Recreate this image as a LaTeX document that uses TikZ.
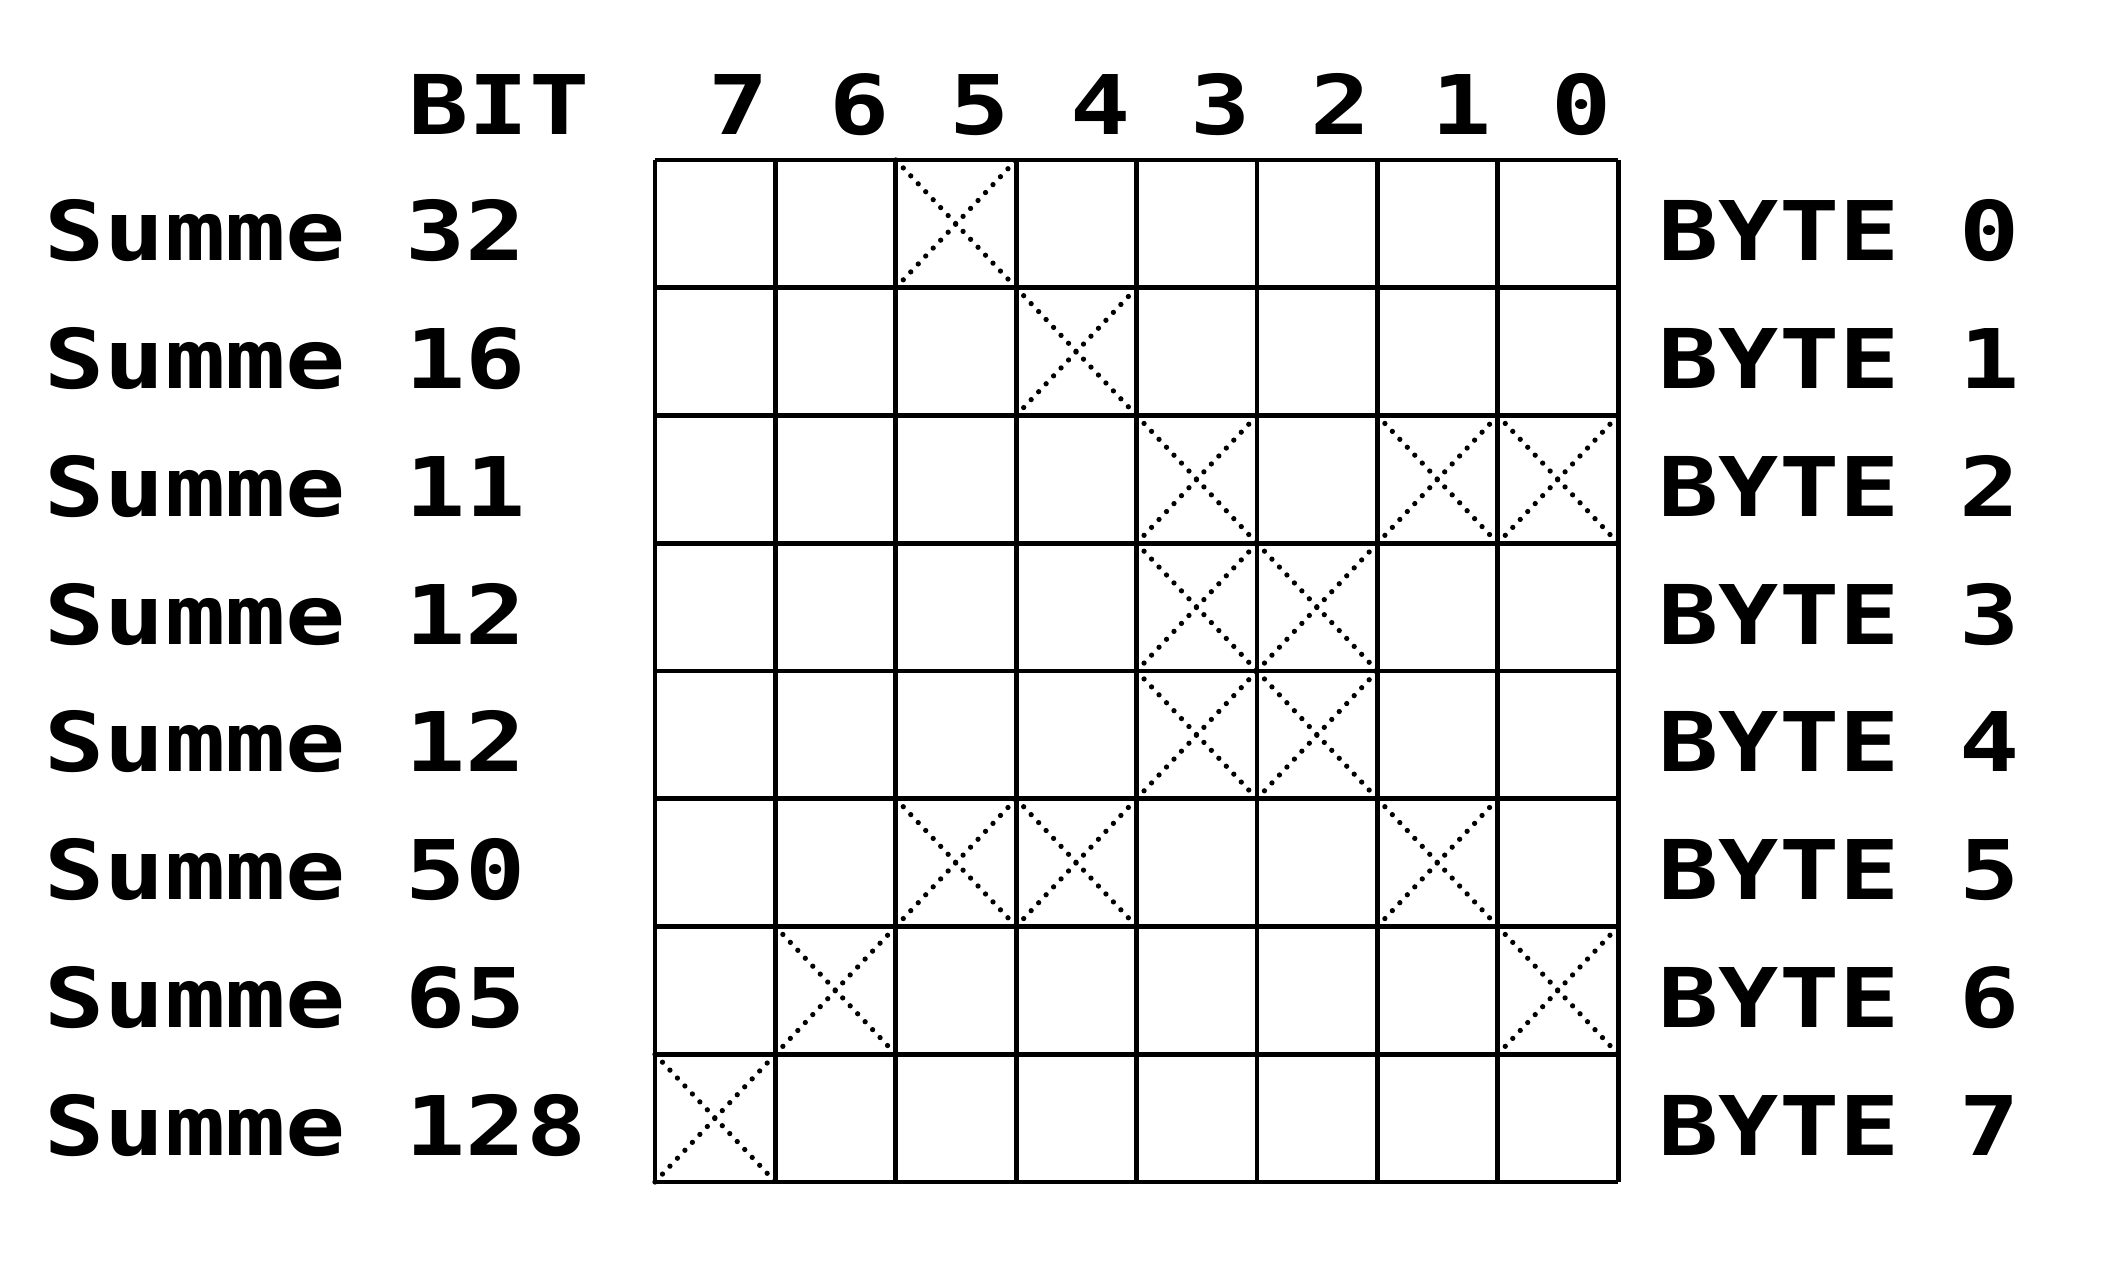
\documentclass[tikz,border=0pt]{standalone}
\usepackage{fontspec}
\newfontfamily\dotfont[FakeStretch=1.215]{DejaVu Sans Mono}
\newcommand{\dotsize}{\fontsize{23.4pt}{28pt}\selectfont}

\tikzset{
  printtext/.style={font=\dotfont\bfseries\dotsize, inner sep=0pt, anchor=base west},
  gridline/.style={line width=1.4pt},
  crossline/.style={line width=1.5pt, line cap=round, dash pattern=on 0pt off 3.1pt}
}

\begin{document}
\begin{tikzpicture}[x=0.01cm, y=-0.01cm]
  \useasboundingbox (0,0) rectangle (2102,1263);

  % Header line
  \node[printtext] (bitlabel) at (408,134) {BIT};
  \foreach \d [count=\k from 0] in {7,...,0} {
    \node[printtext, anchor=base] (bit\d) at (739+120.4*\k,134) {\d};
  }

  % Grid
  \foreach \i in {0,...,8} {
    \draw[gridline] (655+120.4*\i,160) -- (655+120.4*\i,1182);
    \draw[gridline] (655,160+127.75*\i) -- (1618,160+127.75*\i);
  }

  % Set bits
  \foreach \c/\r in {2/0, 3/1, 4/2, 6/2, 7/2, 4/3, 5/3, 4/4, 5/4,
                     2/5, 3/5, 6/5, 1/6, 7/6, 0/7} {
    \draw[crossline] (655+120.4*\c,160+127.75*\r) -- ++(120.4,127.75);
    \draw[crossline] (655+120.4*\c,287.75+127.75*\r) -- ++(120.4,-127.75);
  }

  % Row labels
  \foreach \v [count=\r from 0] in {32,16,11,12,12,50,65,128} {
    \node[printtext] (sum\r) at (44,260.9+127.75*\r) {Summe};
    \node[printtext] (val\r) at (405,260.9+127.75*\r) {\v};
    \node[printtext] (byte\r) at (1658,260.9+127.75*\r) {BYTE};
    \node[printtext] (bnum\r) at (1959,260.9+127.75*\r) {\r};
  }
\end{tikzpicture}
\end{document}
